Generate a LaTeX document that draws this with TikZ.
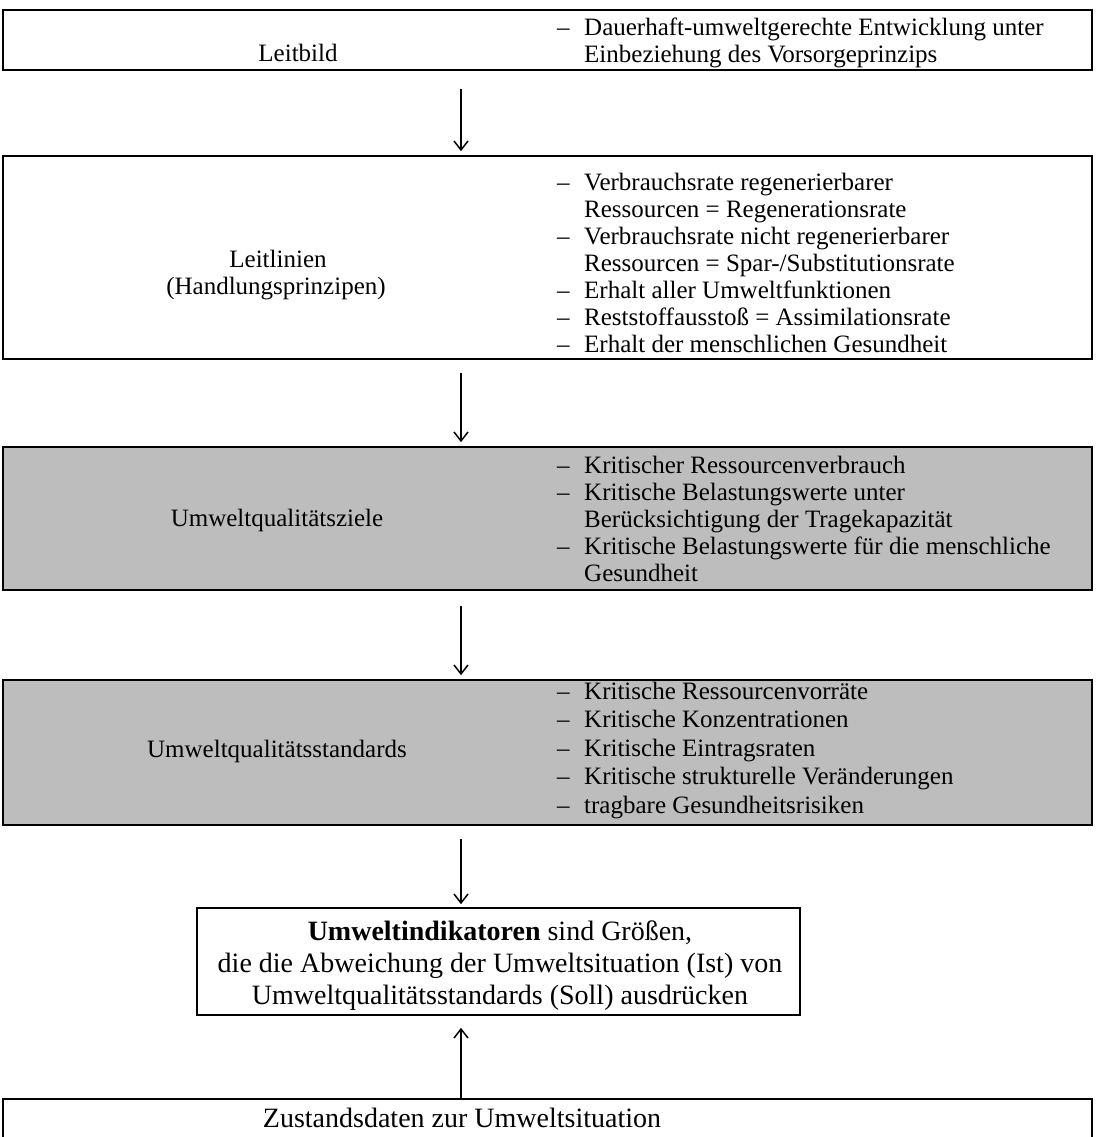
\documentclass[tikz,border=0pt]{standalone}
\usepackage{fontspec}
\setmainfont{Liberation Serif}
\usetikzlibrary{arrows.meta}
\newcommand{\dsh}{\makebox[27pt][l]{–}}
\newcommand{\ind}{\hspace*{27pt}}
\begin{document}
\begin{tikzpicture}[x=1pt,y=-1pt,
  box/.style={draw=black, line width=1.6pt, inner sep=0pt},
  shaded/.style={box, fill=black!26},
  conn/.style={line width=1.5pt, -{Straight Barb[length=9pt,width=14pt,line width=1.5pt]}},
  lab/.style={font=\fontsize{25}{27}\selectfont, inner sep=0pt, anchor=base},
  col/.style={font=\fontsize{25}{27}\selectfont, inner sep=0pt, anchor=base west},
  colb/.style={font=\fontsize{25}{28.5}\selectfont, inner sep=0pt, anchor=base west},
  big/.style={font=\fontsize{28}{32}\selectfont, inner sep=0pt, anchor=base},
]
\useasboundingbox (0,0) rectangle (1095,1137);
\fill[white] (0,0) rectangle (1095,1137);
\clip (0,0) rectangle (1095,1137);
\coordinate (ax) at (461,0);

% boxes
\node[box, minimum width=1089pt, minimum height=60pt] (b1) at (547.5,40) {};
\node[box, minimum width=1089pt, minimum height=203pt] (b2) at (547.5,257.5) {};
\node[shaded, minimum width=1089pt, minimum height=143pt] (b3) at (547.5,518.5) {};
\node[shaded, minimum width=1089pt, minimum height=145pt] (b4) at (547.5,752.5) {};
\node[box, minimum width=603pt, minimum height=107pt] (b5) at (498.5,961.5) {};
\node[box, minimum width=1089pt, minimum height=70pt] (b6) at (547.5,1134) {};

% box 1
\node[lab] (t1l) at (298,62) {Leitbild};
\node[col] (t1r) at (557,36) {\begin{tabular}[t]{@{}l@{}}
\dsh Dauerhaft-umweltgerechte Entwicklung unter\\
\ind Einbeziehung des Vorsorgeprinzips\end{tabular}};

% box 2
\node[lab] (t2l) at (278,267) {Leitlinien};
\node[lab] (t2l2) at (276,294) {(Handlungsprinzipen)};
\node[col] (t2r) at (557,190) {\begin{tabular}[t]{@{}l@{}}
\dsh Verbrauchsrate regenerierbarer\\
\ind Ressourcen = Regenerationsrate\\
\dsh Verbrauchsrate nicht regenerierbarer\\
\ind Ressourcen = Spar-/Substitutionsrate\\
\dsh Erhalt aller Umweltfunktionen\\
\dsh Reststoffausstoß = Assimilationsrate\\
\dsh Erhalt der menschlichen Gesundheit\end{tabular}};

% box 3
\node[lab] (t3l) at (277,526) {Umweltqualitätsziele};
\node[col] (t3r) at (557,473) {\begin{tabular}[t]{@{}l@{}}
\dsh Kritischer Ressourcenverbrauch\\
\dsh Kritische Belastungswerte unter\\
\ind Berücksichtigung der Tragekapazität\\
\dsh Kritische Belastungswerte für die menschliche\\
\ind Gesundheit\end{tabular}};

% box 4
\node[lab] (t4l) at (277,757) {Umweltqualitätsstandards};
\node[colb] (t4r) at (557,699) {\begin{tabular}[t]{@{}l@{}}
\dsh Kritische Ressourcenvorräte\\
\dsh Kritische Konzentrationen\\
\dsh Kritische Eintragsraten\\
\dsh Kritische strukturelle Veränderungen\\
\dsh tragbare Gesundheitsrisiken\end{tabular}};

% box 5
\node[big] (t5a) at (500,940) {\textbf{Umweltindikatoren} sind Größen,};
\node[big] (t5b) at (500,972) {die die Abweichung der Umweltsituation (Ist) von};
\node[big] (t5c) at (500,1004) {Umweltqualitätsstandards (Soll) ausdrücken};

% box 6
\node[big] (t6) at (462,1127) {Zustandsdaten zur Umweltsituation};

% connectors
\draw[conn, shorten <=18pt, shorten >=4pt] (b1.south -| ax) -- (b2.north -| ax);
\draw[conn, shorten <=13pt, shorten >=4pt] (b2.south -| ax) -- (b3.north -| ax);
\draw[conn, shorten <=15pt, shorten >=4pt] (b3.south -| ax) -- (b4.north -| ax);
\draw[conn, shorten <=13pt, shorten >=3pt] (b4.south -| ax) -- (b5.north -| ax);
\draw[conn, shorten >=12pt] (b6.north -| ax) -- (b5.south -| ax);
\end{tikzpicture}
\end{document}
